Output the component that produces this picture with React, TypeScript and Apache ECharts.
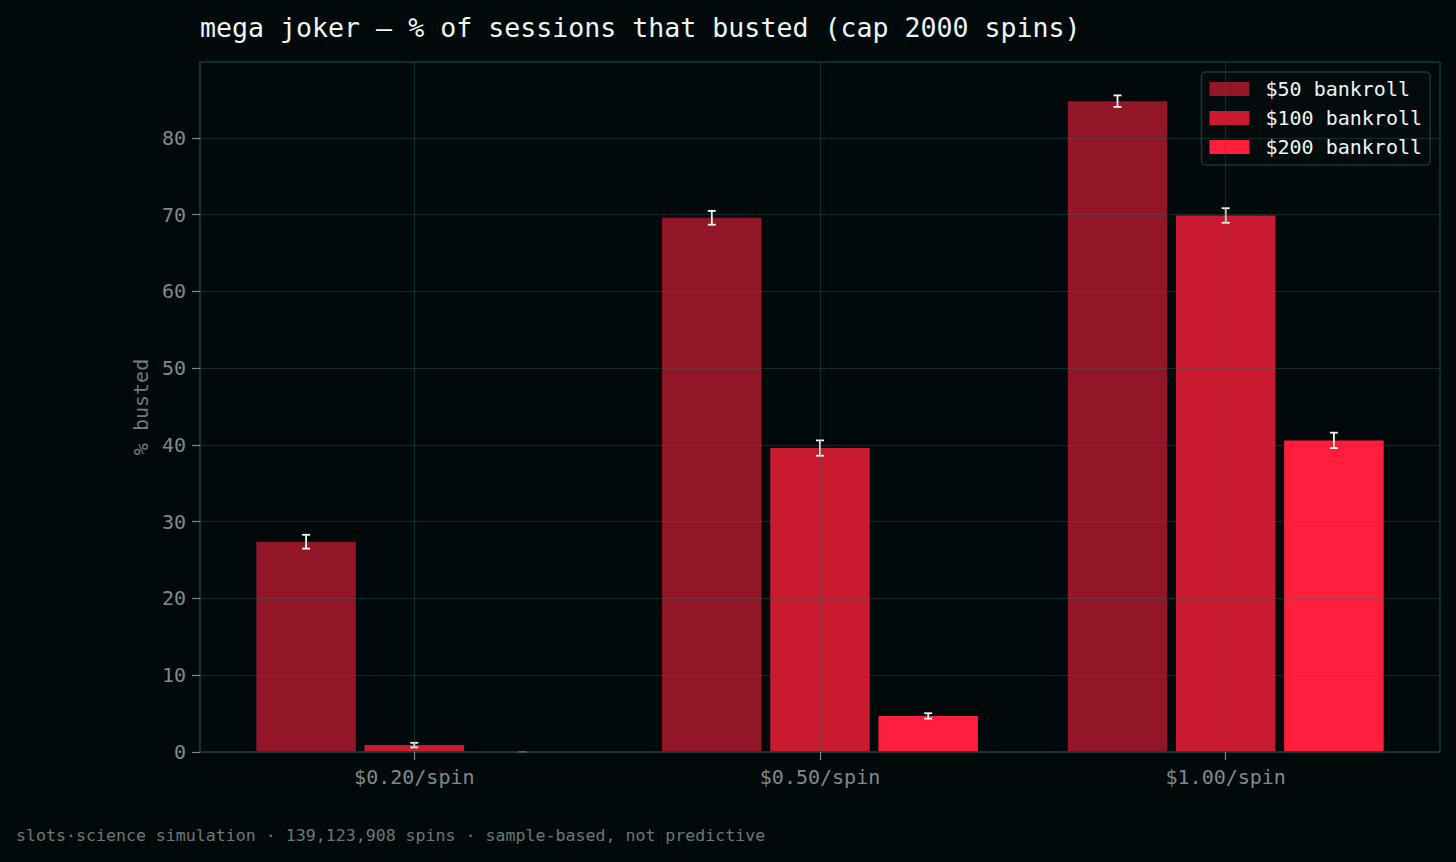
import React, { useEffect, useRef } from "react";
import * as echarts from "echarts";

const categories = ["$0.20/spin", "$0.50/spin", "$1.00/spin"];
const bankrolls = ["$50 bankroll", "$100 bankroll", "$200 bankroll"];
const colors = ["#921627", "#c91a30", "#ff1f3c"];
const busted50 = [27.4, 69.6, 84.8];
const err50 = [0.9, 0.9, 0.75];
const busted100 = [0.9, 39.6, 69.9];
const err100 = [0.3, 1.0, 0.95];
const busted200 = [0, 4.7, 40.6];
const err200 = [0, 0.35, 1.0];
const yTicks = [0, 10, 20, 30, 40, 50, 60, 70, 80];

const FONT = "'DejaVu Sans Mono', monospace";
const GROUP_STEP = 0.8 / 3;
const BAR_W = GROUP_STEP * 0.92;
const GRID_LINE = "rgba(40,105,88,0.36)";

export default function App() {
  const ref = useRef<HTMLDivElement>(null);
  useEffect(() => {
    if (!ref.current) return;
    const chart = echarts.init(ref.current, undefined, { renderer: "svg" });
    const values = [busted50, busted100, busted200];
    const errs = [err50, err100, err200];
    const series = bankrolls.map((name, si) => ({
      type: "custom",
      name,
      itemStyle: { color: colors[si] },
      data: categories.map((_, ci) => [ci, values[si][ci], errs[si][ci]]),
      renderItem: (params: any, api: any) => {
        const cat = api.value(0);
        const v = api.value(1);
        const e = api.value(2);
        const cx = cat + (si - 1) * GROUP_STEP;
        const p0 = api.coord([cx - BAR_W / 2, v]);
        const p1 = api.coord([cx + BAR_W / 2, 0]);
        const top = api.coord([cx, v + e]);
        const bot = api.coord([cx, v - e]);
        const cap = 4;
        const es = { stroke: "#f2f8f6", lineWidth: 1.8 };
        return {
          type: "group",
          children: [
            {
              type: "rect",
              shape: { x: p0[0], y: p0[1], width: p1[0] - p0[0], height: p1[1] - p0[1] },
              style: { fill: colors[si] },
            },
            { type: "line", shape: { x1: top[0], y1: top[1], x2: bot[0], y2: bot[1] }, style: es },
            { type: "line", shape: { x1: top[0] - cap, y1: top[1], x2: top[0] + cap, y2: top[1] }, style: es },
            { type: "line", shape: { x1: bot[0] - cap, y1: bot[1], x2: bot[0] + cap, y2: bot[1] }, style: es },
          ],
        };
      },
    }));

    chart.setOption({
      animation: false,
      backgroundColor: "#02090b",
      title: {
        text: "mega joker — % of sessions that busted (cap 2000 spins)",
        left: 200,
        top: 14,
        padding: 0,
        textStyle: { fontFamily: FONT, fontSize: 26.6, fontWeight: "normal", color: "#eef6f4" },
      },
      legend: {
        orient: "vertical",
        right: 26,
        top: 72,
        padding: [7, 8, 8, 8],
        itemWidth: 40,
        itemHeight: 14,
        itemGap: 9,
        icon: "rect",
        backgroundColor: "#030b0d",
        borderColor: "#173a33",
        borderWidth: 1.5,
        borderRadius: 4,
        textStyle: {
          fontFamily: FONT,
          fontSize: 20,
          lineHeight: 20,
          color: "#eef5f3",
          padding: [0, 0, 0, 11],
        },
        data: bankrolls,
      },
      grid: {
        left: 200,
        top: 62,
        width: 1240,
        height: 690,
        show: true,
        backgroundColor: "#02090b",
        borderColor: "#173a33",
        borderWidth: 1.5,
      },
      xAxis: {
        type: "value",
        min: -0.5282,
        max: 2.5282,
        z: 5,
        axisLine: { show: true, onZero: false, lineStyle: { color: "#173a33", width: 1.5 } },
        axisTick: {
          show: true,
          length: 8,
          customValues: [0, 1, 2],
          lineStyle: { color: "#7c8886", width: 1.2 },
        },
        axisLabel: {
          customValues: [0, 1, 2],
          formatter: (v: number) => categories[Math.round(v)] ?? "",
          fontFamily: FONT,
          fontSize: 20,
          color: "#7f8b89",
          margin: 15,
        },
        splitLine: { show: true, lineStyle: { color: GRID_LINE, width: 1.2 } },
      },
      yAxis: {
        type: "value",
        min: 0,
        max: 89.9,
        z: 5,
        name: "% busted",
        nameLocation: "middle",
        nameRotate: 90,
        nameGap: 48,
        nameTextStyle: { fontFamily: FONT, fontSize: 20, color: "#6f7d7b" },
        axisLine: { show: true, onZero: false, lineStyle: { color: "#173a33", width: 1.5 } },
        axisTick: {
          show: true,
          length: 8,
          customValues: yTicks,
          lineStyle: { color: "#7c8886", width: 1.2 },
        },
        axisLabel: {
          customValues: yTicks,
          fontFamily: FONT,
          fontSize: 20,
          color: "#7f8b89",
          margin: 14,
        },
        splitLine: { show: true, lineStyle: { color: GRID_LINE, width: 1.2 } },
      },
      graphic: [
        {
          type: "text",
          left: 16,
          top: 827,
          style: {
            text: "slots·science simulation · 139,123,908 spins · sample-based, not predictive",
            fontFamily: FONT,
            fontSize: 16.6,
            fill: "#6b7876",
          },
        },
      ],
      series,
    });
    return () => chart.dispose();
  }, []);
  return (
    <div
      ref={ref}
      style={{ position: "fixed", left: 0, top: 0, width: 1456, height: 862, background: "#02090b" }}
    />
  );
}
